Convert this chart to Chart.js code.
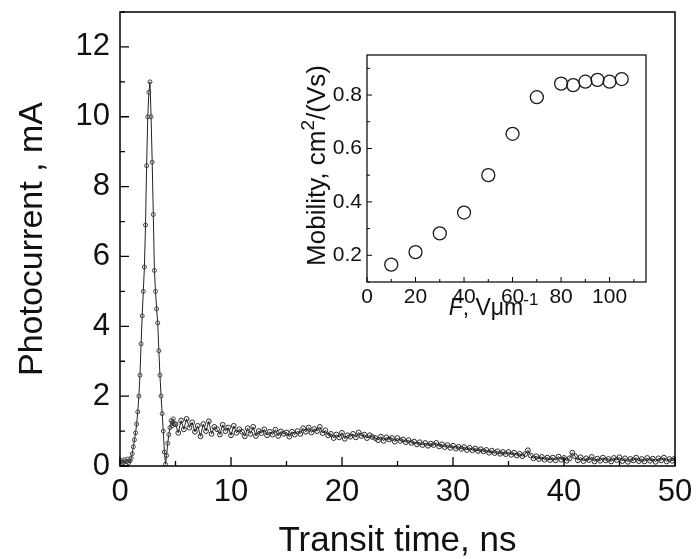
<!DOCTYPE html>
<html>
<head>
<meta charset="utf-8">
<script src="https://cdn.jsdelivr.net/npm/chart.js@4.4.0/dist/chart.umd.min.js"></script>
<style>
  body { margin: 0; background: #fff; overflow: hidden; }
  #wrap { position: relative; width: 697px; height: 559px; }
  #main { position: absolute; left: 0; top: 0; }
  #inset { position: absolute; left: 295px; top: 45px; }
</style>
</head>
<body>
<div id="wrap">
  <canvas id="main" width="697" height="559"></canvas>
  <canvas id="inset" width="370" height="280"></canvas>
</div>
<script>
// main trace: peak part, sampled every 0.1 ns
const peakTimes = [
  0.0, 0.1, 0.2, 0.3, 0.4, 0.5, 0.6, 0.7, 0.8, 0.9,
  1.0, 1.1, 1.2, 1.3, 1.4, 1.5, 1.6, 1.7, 1.8, 1.9,
  2.0, 2.1, 2.2, 2.3, 2.4, 2.5, 2.6, 2.7, 2.8, 2.9,
  3.0, 3.1, 3.2, 3.3, 3.4, 3.5, 3.6, 3.7, 3.8, 3.9,
  4.0, 4.1, 4.2, 4.3, 4.4, 4.5, 4.6, 4.7, 4.8, 4.9
];
const peakCurrent = [
  0.12, 0.08, 0.15, 0.1, 0.18, 0.06, 0.12, 0.2, 0.1, 0.15,
  0.22, 0.35, 0.55, 0.75, 0.95, 1.2, 1.55, 2.0, 2.6, 3.5,
  4.3, 5.0, 5.7, 6.9, 8.6, 10.0, 10.7, 11.0, 10.0, 8.7,
  7.2, 5.6, 5.0, 4.5, 4.1, 3.3, 2.6, 2.0, 1.5, 1.0,
  0.4, 0.05, 0.3, 0.65, 0.9, 1.1, 1.3, 1.15, 1.35, 1.2
];

// tail part, sampled every 0.25 ns from 5 ns
const tailStart = 5.0;
const tailStep = 0.25;
const tailCurrent = [
  1.2, 0.95, 1.3, 1.05, 1.35, 1.1, 1.25, 0.98,
  1.15, 0.85, 1.2, 1.0, 1.28, 0.92, 1.12, 1.05,
  0.9, 1.18, 1.0, 1.1, 0.88, 1.15, 0.95, 1.05,
  0.98, 0.85, 1.08, 0.92, 1.12, 0.86, 1.0, 0.94,
  1.05, 0.88, 0.98, 0.9, 1.04, 0.86, 0.99, 0.92,
  0.96, 0.84, 0.98, 0.9, 1.0, 0.92, 1.08, 0.98,
  1.1, 0.96, 1.06, 1.0, 1.12, 0.94, 1.02, 0.88,
  0.92, 0.8, 0.9, 0.82, 0.95, 0.78, 0.88, 0.84,
  0.92, 0.82, 0.96, 0.86, 0.9, 0.8, 0.88, 0.83,
  0.8, 0.74, 0.84, 0.72, 0.82, 0.76, 0.8, 0.7,
  0.8, 0.72, 0.76, 0.68, 0.74, 0.66, 0.7, 0.62,
  0.68, 0.6, 0.66, 0.58, 0.64, 0.6, 0.66, 0.56,
  0.62, 0.54, 0.6, 0.52, 0.58, 0.5, 0.55, 0.49,
  0.54, 0.46, 0.52, 0.45, 0.5, 0.43, 0.48, 0.42,
  0.46, 0.38, 0.44, 0.37, 0.42, 0.35, 0.4, 0.34,
  0.4, 0.32, 0.38, 0.3, 0.35, 0.28, 0.34, 0.45,
  0.3, 0.22, 0.28, 0.2, 0.26, 0.18, 0.24, 0.17,
  0.24, 0.16, 0.27, 0.18, 0.23, 0.15, 0.22, 0.38,
  0.28, 0.16, 0.25, 0.14, 0.22, 0.17, 0.26, 0.13,
  0.21, 0.15, 0.24, 0.16, 0.2, 0.13, 0.23, 0.17,
  0.25, 0.14, 0.22, 0.12, 0.2, 0.16, 0.24, 0.14,
  0.2, 0.13, 0.23, 0.15, 0.21, 0.12, 0.22, 0.16,
  0.24, 0.13, 0.2, 0.15, 0.22
];

// inset: mobility vs field
const fieldValues = [10, 20, 30, 40, 50, 60, 70, 80, 85, 90, 95, 100, 105];
const mobilityValues = [0.165, 0.212, 0.282, 0.36, 0.50, 0.655, 0.792, 0.843, 0.837, 0.85, 0.857, 0.85, 0.86];

const FONT = "'Liberation Sans', Arial, Helvetica, sans-serif";
Chart.defaults.font.family = FONT;
Chart.defaults.color = "#111";

const traceData = peakTimes.map((t, i) => ({ x: t, y: peakCurrent[i] }));
tailCurrent.forEach((v, i) => traceData.push({ x: tailStart + i * tailStep, y: v }));

// frame + inward tick marks
const frameTicks = {
  id: "frameTicks",
  afterDraw(chart, args, o) {
    const { ctx, chartArea: a } = chart;
    const xs = chart.scales.x;
    const ys = chart.scales.y;
    ctx.save();
    ctx.strokeStyle = "#000";
    ctx.lineWidth = o.width;
    ctx.strokeRect(a.left, a.top, a.right - a.left, a.bottom - a.top);
    ctx.lineWidth = o.tickWidth;
    ctx.beginPath();
    for (let i = Math.ceil(xs.min / o.xMinor - 1e-6); i * o.xMinor <= xs.max + 1e-6; i++) {
      const v = i * o.xMinor;
      const px = xs.getPixelForValue(v);
      const r = v / o.xMajor;
      const len = Math.abs(r - Math.round(r)) < 1e-6 ? o.major : o.minor;
      ctx.moveTo(px, a.bottom);
      ctx.lineTo(px, a.bottom - len);
    }
    for (let i = Math.ceil(ys.min / o.yMinor - 1e-6); i * o.yMinor <= ys.max + 1e-6; i++) {
      const v = i * o.yMinor;
      const py = ys.getPixelForValue(v);
      const r = v / o.yMajor;
      const len = Math.abs(r - Math.round(r)) < 1e-6 ? o.major : o.minor;
      ctx.moveTo(a.left, py);
      ctx.lineTo(a.left + len, py);
    }
    ctx.stroke();
    ctx.restore();
  }
};

function fixWidth(w) {
  return (scale) => {
    scale.width = w;
    scale.paddingTop = 0;
    scale.paddingBottom = 0;
  };
}
function fixHeight(h) {
  return (scale) => {
    scale.height = h;
    scale.paddingLeft = 0;
    scale.paddingRight = 0;
  };
}

new Chart(document.getElementById("main"), {
  type: "line",
  data: {
    datasets: [
      {
        data: traceData,
        borderColor: "#222",
        borderWidth: 1,
        pointRadius: (c) => (c.dataIndex < peakTimes.length ? 2 : 2.4),
        pointBorderWidth: 1,
        pointBorderColor: (c) => (c.dataIndex < peakTimes.length ? "#444" : "#262626"),
        pointBackgroundColor: "rgba(255,255,255,0)",
        tension: 0,
      },
    ],
  },
  options: {
    responsive: false,
    animation: false,
    events: [],
    layout: { padding: { top: 12, right: 22, left: 0, bottom: 0 } },
    plugins: {
      legend: { display: false },
      tooltip: { enabled: false },
      frameTicks: { width: 1.5, tickWidth: 1.3, major: 9, minor: 5, xMinor: 5, xMajor: 10, yMinor: 1, yMajor: 2 },
    },
    scales: {
      x: {
        type: "linear",
        min: 0,
        max: 50,
        afterFit: fixHeight(93),
        grid: { display: false, drawTicks: false },
        border: { display: false },
        ticks: { stepSize: 10, padding: 8, maxRotation: 0, font: { size: 31 }, color: "#111" },
        title: { display: true, text: "Transit time, ns", font: { size: 35 }, padding: { top: 0, bottom: -3 }, color: "#111" },
      },
      y: {
        min: 0,
        max: 13,
        afterFit: fixWidth(120),
        grid: { display: false, drawTicks: false },
        border: { display: false },
        ticks: { stepSize: 2, includeBounds: false, padding: 10, font: { size: 31 }, color: "#111" },
        title: { display: true, text: "Photocurrent , mA", font: { size: 34 }, padding: { top: 12, bottom: 0 }, color: "#111" },
      },
    },
  },
  plugins: [frameTicks],
});

// rich text pieces (italic / superscript) for the inset axis titles
function drawPieces(ctx, pieces, size) {
  const fontFor = (p) => (p.italic ? "italic " : "") + Math.round(p.sup ? size * 0.72 : size) + "px " + FONT;
  let total = 0;
  pieces.forEach((p) => {
    ctx.font = fontFor(p);
    total += ctx.measureText(p.t).width;
  });
  let x = -total / 2;
  pieces.forEach((p) => {
    ctx.font = fontFor(p);
    ctx.fillText(p.t, x, p.sup ? -size * 0.42 : 0);
    x += ctx.measureText(p.t).width;
  });
}

const insetTitles = {
  id: "insetTitles",
  afterDraw(chart, args, o) {
    const { ctx, chartArea: a } = chart;
    ctx.save();
    ctx.fillStyle = "#111";
    ctx.textBaseline = "alphabetic";
    ctx.textAlign = "left";
    ctx.save();
    ctx.translate(o.yTitleX, (a.top + a.bottom) / 2 - 3);
    ctx.rotate(-Math.PI / 2);
    drawPieces(ctx, [{ t: "Mobility, cm" }, { t: "2", sup: true }, { t: "/(Vs)" }], o.ySize);
    ctx.restore();
    ctx.translate((a.left + a.right) / 2 - 13, o.xTitleY);
    drawPieces(ctx, [{ t: "F", italic: true }, { t: ", V\u03bcm" }, { t: "-1", sup: true }], o.xSize);
    ctx.restore();
  }
};

new Chart(document.getElementById("inset"), {
  type: "scatter",
  data: {
    datasets: [
      {
        data: fieldValues.map((f, i) => ({ x: f, y: mobilityValues[i] })),
        showLine: false,
        pointRadius: 6.5,
        pointBorderWidth: 1.3,
        pointBorderColor: "#1a1a1a",
        pointBackgroundColor: "rgba(255,255,255,0)",
      },
    ],
  },
  options: {
    responsive: false,
    animation: false,
    events: [],
    layout: { padding: { top: 10, right: 19, left: 0, bottom: 0 } },
    plugins: {
      legend: { display: false },
      tooltip: { enabled: false },
      frameTicks: { width: 1.2, tickWidth: 1, major: 5, minor: 3, xMinor: 10, xMajor: 20, yMinor: 0.1, yMajor: 0.2 },
      insetTitles: { ySize: 26, xSize: 23, yTitleX: 30, xTitleY: 270 },
    },
    scales: {
      x: {
        type: "linear",
        min: 0,
        max: 115,
        afterFit: fixHeight(43),
        grid: { display: false, drawTicks: false },
        border: { display: false },
        ticks: { stepSize: 20, includeBounds: false, padding: 3, maxRotation: 0, font: { size: 21 }, color: "#111" },
      },
      y: {
        min: 0.1,
        max: 0.95,
        afterFit: fixWidth(72),
        grid: { display: false, drawTicks: false },
        border: { display: false },
        ticks: {
          stepSize: 0.2,
          includeBounds: false,
          padding: 5,
          font: { size: 21 },
          color: "#111",
          callback: (v) => v.toFixed(1),
        },
      },
    },
  },
  plugins: [frameTicks, insetTitles],
});
</script>
</body>
</html>
